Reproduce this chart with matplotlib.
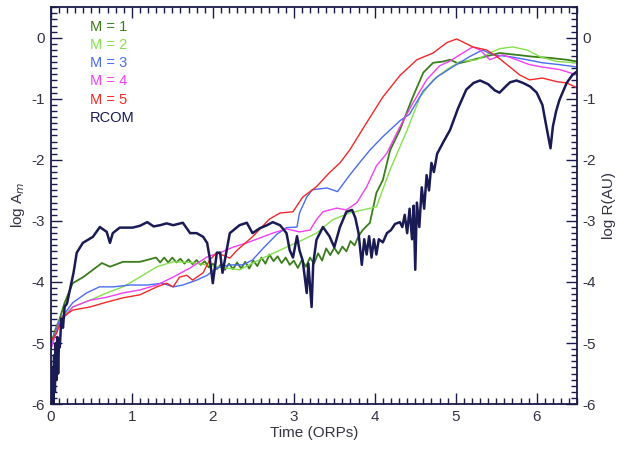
import matplotlib
matplotlib.use("Agg")
import matplotlib.pyplot as plt
from matplotlib.ticker import MultipleLocator

plt.rcParams['font.family'] = ['Liberation Sans', 'DejaVu Sans']
plt.rcParams['axes.unicode_minus'] = False

labels = ["M = 1", "M = 2", "M = 3", "M = 4", "M = 5", "RCOM"]
colors = ["#3a7d1a", "#84e04c", "#4a6cf0", "#f040f0", "#f02828", "#1a1a55"]

m1_x = [0.0, 0.05, 0.11, 0.17, 0.27, 0.40, 0.52, 0.63, 0.73, 0.89, 1.10,
        1.30, 1.35, 1.40, 1.45, 1.50, 1.55, 1.60, 1.65, 1.70, 1.75, 1.80, 1.85, 1.90, 1.95,
        2.00, 2.05, 2.10, 2.15, 2.20, 2.25, 2.30, 2.35, 2.40, 2.45, 2.50, 2.55, 2.60, 2.65,
        2.70, 2.75, 2.80, 2.85, 2.90, 2.95, 3.00, 3.05, 3.10, 3.15, 3.20, 3.25, 3.30, 3.35,
        3.40, 3.45, 3.50, 3.55, 3.60, 3.65, 3.70, 3.75, 3.80, 3.85,
        3.94, 4.02, 4.10, 4.19, 4.31, 4.47, 4.60, 4.72, 4.84, 4.93, 5.03, 5.13, 5.30,
        5.54, 5.75, 5.95, 6.16, 6.37, 6.50]
m1_y = [-5.05, -4.80, -4.60, -4.34, -4.02, -3.92, -3.80, -3.69, -3.75, -3.67, -3.67,
        -3.60, -3.68, -3.60, -3.68, -3.60, -3.68, -3.62, -3.70, -3.63, -3.71, -3.64, -3.72, -3.66, -3.76,
        -3.70, -3.79, -3.71, -3.80, -3.70, -3.79, -3.68, -3.78, -3.67, -3.78, -3.65, -3.74, -3.60, -3.70,
        -3.55, -3.66, -3.58, -3.69, -3.60, -3.72, -3.65, -3.77, -3.64, -3.75, -3.60, -3.70, -3.53, -3.65,
        -3.45, -3.56, -3.44, -3.54, -3.42, -3.50, -3.33, -3.40, -3.25, -3.15,
        -3.03, -2.54, -2.33, -1.84, -1.51, -0.97, -0.57, -0.41, -0.39, -0.36, -0.42, -0.39, -0.33,
        -0.25, -0.28, -0.31, -0.33, -0.36, -0.39]

m2_x = [0.0, 0.05, 0.11, 0.27, 0.48, 0.69, 0.89, 1.10, 1.31, 1.51, 1.72, 1.93, 2.10, 2.33,
        2.60, 2.91, 3.11, 3.28, 3.48, 3.69, 3.85, 4.02, 4.19, 4.40, 4.56, 4.72, 4.89,
        5.05, 5.26, 5.42, 5.54, 5.70, 5.88, 6.04, 6.25, 6.50]
m2_y = [-5.10, -4.85, -4.62, -4.41, -4.30, -4.18, -4.08, -3.92, -3.75, -3.67, -3.68, -3.72, -3.76, -3.80,
        -3.62, -3.43, -3.31, -3.20, -2.98, -2.87, -2.82, -2.77, -2.16, -1.51, -0.97, -0.69, -0.52,
        -0.39, -0.36, -0.25, -0.18, -0.15, -0.20, -0.31, -0.39, -0.41]

m3_x = [0.0, 0.05, 0.11, 0.27, 0.44, 0.60, 0.77, 0.98, 1.19, 1.38, 1.51, 1.63, 1.80, 1.93,
        2.05, 2.21, 2.37, 2.49, 2.62, 2.79, 2.91, 3.04, 3.07, 3.16, 3.23, 3.41, 3.54, 3.69,
        3.81, 3.94, 4.10, 4.31, 4.43, 4.60, 4.77, 4.96, 5.17, 5.33, 5.46, 5.67, 5.88, 6.07,
        6.28, 6.50]
m3_y = [-5.10, -4.85, -4.62, -4.34, -4.18, -4.08, -4.08, -4.05, -4.05, -4.02, -4.08, -4.05, -3.97, -3.89,
        -3.77, -3.72, -3.72, -3.64, -3.45, -3.22, -3.11, -3.10, -2.87, -2.61, -2.49, -2.46, -2.52, -2.25,
        -2.05, -1.84, -1.62, -1.36, -1.25, -0.87, -0.64, -0.48, -0.31, -0.20, -0.28, -0.31, -0.36, -0.41,
        -0.44, -0.48]

m4_x = [0.0, 0.05, 0.11, 0.27, 0.48, 0.69, 0.89, 1.10, 1.31, 1.51, 1.72, 1.93, 2.09, 2.25,
        2.42, 2.58, 2.74, 2.91, 3.07, 3.20, 3.28, 3.36, 3.53, 3.65, 3.78, 3.90, 4.02, 4.15,
        4.31, 4.47, 4.64, 4.80, 4.93, 5.05, 5.21, 5.30, 5.42, 5.58, 5.75, 5.91, 6.07, 6.28, 6.50]
m4_y = [-5.10, -4.90, -4.67, -4.41, -4.30, -4.25, -4.18, -4.13, -4.05, -3.92, -3.77, -3.59, -3.52, -3.43,
        -3.36, -3.28, -3.20, -3.13, -3.18, -3.15, -2.98, -2.85, -2.79, -2.82, -2.70, -2.44, -2.10, -1.89,
        -1.46, -1.07, -0.69, -0.46, -0.38, -0.28, -0.15, -0.20, -0.36, -0.28, -0.36, -0.44, -0.48, -0.52, -0.61]

m5_x = [0.0, 0.07, 0.15, 0.27, 0.48, 0.69, 0.89, 1.10, 1.31, 1.43, 1.51, 1.59, 1.68, 1.75,
        1.88, 1.96, 2.05, 2.21, 2.30, 2.49, 2.70, 2.83, 2.99, 3.11, 3.28, 3.44, 3.57, 3.69,
        3.90, 4.10, 4.31, 4.52, 4.72, 4.89, 5.01, 5.09, 5.21, 5.38, 5.51, 5.67, 5.79, 5.91,
        6.07, 6.25, 6.37, 6.50]
m5_y = [-4.98, -4.84, -4.57, -4.46, -4.41, -4.33, -4.26, -4.21, -4.08, -4.02, -4.08, -3.92, -3.89, -3.97,
        -3.85, -3.64, -3.52, -3.61, -3.48, -3.26, -2.97, -2.87, -2.85, -2.61, -2.44, -2.21, -2.05, -1.84,
        -1.39, -0.97, -0.62, -0.36, -0.25, -0.08, -0.02, -0.07, -0.15, -0.20, -0.31, -0.48, -0.61, -0.69,
        -0.66, -0.72, -0.74, -0.82]

rcom_x = [0.0, 0.01, 0.02, 0.03, 0.04, 0.05, 0.06, 0.07, 0.08, 0.09, 0.10, 0.11, 0.13, 0.15,
          0.17, 0.20, 0.235, 0.28, 0.32, 0.395, 0.52, 0.605, 0.69, 0.73, 0.765, 0.85, 1.01,
          1.10, 1.19, 1.27, 1.35, 1.43, 1.51, 1.63, 1.72, 1.80, 1.88, 1.93, 1.96, 2.00, 2.05,
          2.09, 2.12, 2.21, 2.33, 2.42, 2.49, 2.58, 2.67, 2.74, 2.83, 2.91, 2.95, 2.99, 3.04,
          3.07, 3.11, 3.16, 3.18, 3.22, 3.24, 3.28, 3.36, 3.44, 3.50, 3.57, 3.65, 3.72, 3.76,
          3.80, 3.84, 3.87, 3.90, 3.93, 3.96, 3.99, 4.02, 4.05, 4.10, 4.15, 4.20, 4.25, 4.31,
          4.34, 4.37, 4.40, 4.43, 4.46, 4.48, 4.50, 4.52, 4.55, 4.58, 4.61, 4.64, 4.67, 4.70,
          4.73, 4.77, 4.85, 4.93, 5.03, 5.13, 5.22, 5.30, 5.40, 5.48, 5.54, 5.60, 5.67, 5.75,
          5.83, 5.92, 6.00, 6.07, 6.12, 6.17, 6.20, 6.24, 6.28, 6.37, 6.44, 6.50]
rcom_y = [-5.30, -5.90, -5.40, -6.00, -5.20, -5.80, -5.00, -5.60, -4.90, -5.50, -5.00, -5.07, -4.60, -4.75,
          -4.41, -4.35, -4.13, -3.85, -3.52, -3.36, -3.26, -3.10, -3.18, -3.36, -3.20, -3.11, -3.11,
          -3.08, -3.02, -3.09, -3.07, -3.04, -3.07, -3.03, -3.20, -3.20, -3.26, -3.36, -3.59, -4.02, -3.52,
          -3.52, -3.85, -3.20, -3.07, -3.03, -3.20, -3.12, -3.07, -3.02, -3.07, -3.20, -3.48, -3.60, -3.25,
          -3.48, -3.65, -4.18, -3.70, -4.41, -3.70, -3.31, -3.10, -3.25, -3.43, -3.10, -2.85, -2.82, -2.95,
          -3.20, -3.72, -3.30, -3.55, -3.25, -3.60, -3.30, -3.55, -3.30, -3.35, -3.20, -3.15, -3.05, -3.02,
          -3.10, -2.90, -3.20, -2.80, -3.30, -2.75, -3.80, -2.70, -3.10, -2.45, -2.80, -2.25, -2.50, -2.05,
          -2.20, -1.90, -1.70, -1.51, -1.15, -0.85, -0.74, -0.70, -0.76, -0.86, -0.90, -0.82, -0.73, -0.70,
          -0.74, -0.80, -0.90, -1.10, -1.46, -1.81, -1.45, -1.20, -1.02, -0.74, -0.61, -0.55]

axis_color = "#1a1a4a"
text_color = "#333344"

fig = plt.figure(figsize=(6.2, 4.51), dpi=100)
ax = fig.add_axes([0.082, 0.104, 0.849, 0.88])

series = [(m1_x, m1_y), (m2_x, m2_y), (m3_x, m3_y), (m4_x, m4_y), (m5_x, m5_y)]
widths = [1.3, 1.0, 1.0, 1.0, 1.0]
for (xs, ys), c, w in zip(series, colors[:5], widths):
    ax.plot(xs, ys, color=c, lw=w)
ax.plot(rcom_x, rcom_y, color=colors[5], lw=1.8)

ax.set_xlim(0, 6.5)
ax.set_ylim(-6, 0.5)
ax.xaxis.set_major_locator(MultipleLocator(1))
ax.xaxis.set_minor_locator(MultipleLocator(0.1))
ax.yaxis.set_major_locator(MultipleLocator(1))
ax.yaxis.set_minor_locator(MultipleLocator(0.1))
ax.tick_params(which='both', direction='in', top=True, right=True,
               left=True, labelleft=True, labelright=True,
               colors=axis_color, labelcolor=text_color, labelsize=11, width=1.0)
ax.tick_params(which='major', length=8, pad=4)
ax.tick_params(which='minor', length=4)
for s in ax.spines.values():
    s.set_color(axis_color)
    s.set_linewidth(1.3)

ax.set_xlabel("Time (ORPs)", color=text_color, fontsize=11, labelpad=2)
fig.text(18 / 620, 1 - 205 / 451, "log A$_m$", color=text_color, fontsize=11,
         rotation=90, ha='center', va='center')
fig.text(609 / 620, 1 - 205 / 451, "log R(AU)", color=text_color, fontsize=11,
         rotation=90, ha='center', va='center')

legend_y = [0.95, 0.905, 0.86, 0.813, 0.765, 0.72]
for lab, c, yy in zip(labels, colors, legend_y):
    ax.text(0.074, yy, lab, color=c, fontsize=10.5, transform=ax.transAxes,
            va='center', ha='left')

fig.savefig("out.png", dpi=100)
